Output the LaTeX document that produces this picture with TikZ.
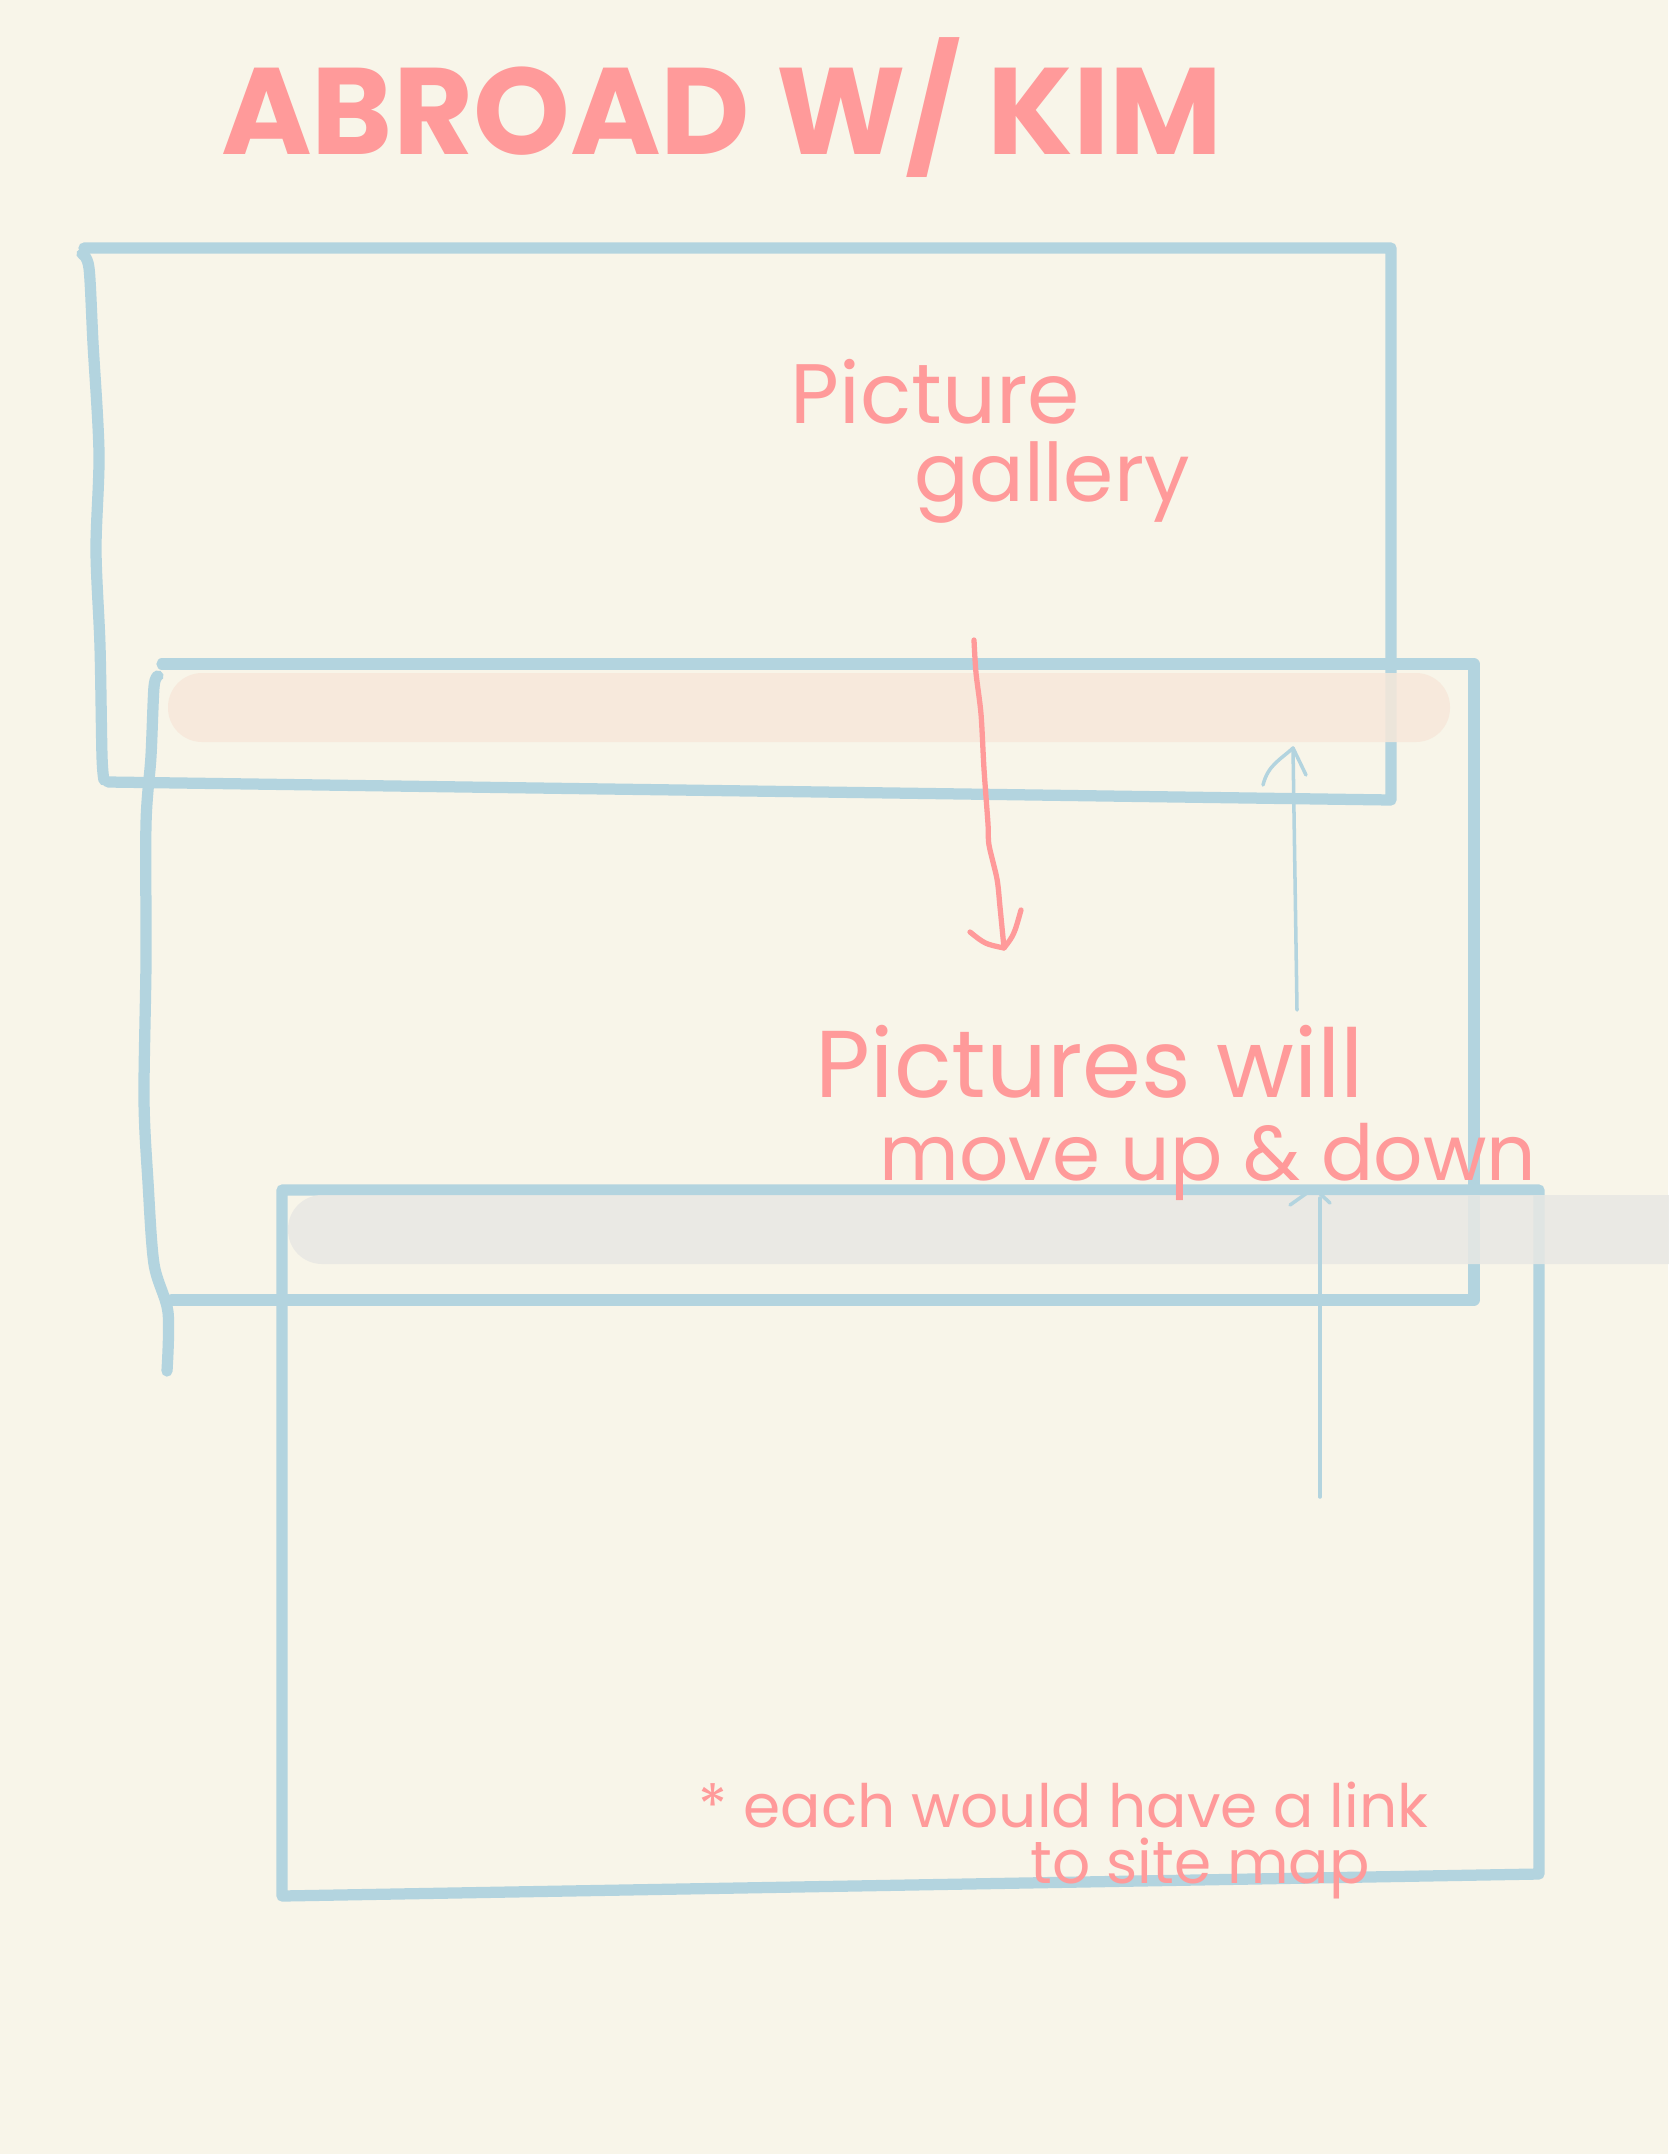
\documentclass[tikz,border=0pt]{standalone}
\usepackage{fontspec}
\setmainfont{Poppins}
\usepackage{xcolor}
\usetikzlibrary{arrows}
\definecolor{papel}{HTML}{F8F5E9}
\definecolor{rosa}{HTML}{FF9A9A}
\definecolor{azul}{HTML}{B3D4DF}
\definecolor{durazno}{HTML}{F7E8DA}
\definecolor{gris}{HTML}{E8E8E4}

\begin{document}
\begin{tikzpicture}[x=0.01cm,y=-0.01cm,
  caja/.style={draw=azul,line width=3.2pt,line join=round,line cap=round},
  trazo/.style={draw=rosa,line width=1.5pt,line join=round,line cap=round},
  guia/.style={draw=azul,line width=1pt,line join=round,line cap=round},
  banda/.style={fill opacity=0.85,rounded corners=0.34cm},
  nota/.style={rosa,inner sep=0pt,anchor=west}]
\fill[papel] (0,0) rectangle (1668,2154);
\useasboundingbox (0,0) rectangle (1668,2154);
% titulo
\node[nota,anchor=center,font=\fontsize{35}{38}\selectfont\bfseries] (titulo) at (722,108) {ABROAD W/ KIM};
% cajas
\draw[caja] (84,248) -- (1391,248) -- (1391,800) -- (108,782);
\draw[caja] plot[smooth] coordinates {(82,254) (89,268) (93,343) (99,453) (96,550) (100,646) (102,756) (104,780)};
\draw[caja] (162,664) -- (1474,664) -- (1474,1300) -- (172,1300);
\draw[caja] plot[smooth] coordinates {(158,676) (154,687) (151,756) (146,824) (146,962) (144,1099) (148,1182) (154,1264) (168,1312) (167,1371)};
\draw[caja] (282,1190) -- (1539,1190) -- (1539,1874) -- (282,1896) -- cycle;
% bandas
\fill[durazno,banda] (168,673) rectangle (1450,742);
\fill[gris,banda] (288,1195) rectangle (1720,1264);
% flecha hacia abajo
\coordinate (bajaIni) at (974,640);
\coordinate (bajaFin) at (1004,948);
\draw[trazo] plot[smooth] coordinates {(bajaIni) (976,673) (981,714) (984,769) (988,824) (989,845) (997,879) (1000,907) (bajaFin)};
\draw[trazo] (970,932) .. controls (985,944) .. (bajaFin) .. controls (1014,935) .. (1021,910);
% guias azules
\coordinate (subeIni) at (1297,1010);
\coordinate (subeFin) at (1293,748);
\draw[guia] (subeIni) -- (subeFin);
\draw[guia] (1263,785) .. controls (1268,765) and (1280,760) .. (subeFin) -- (1306,775);
\coordinate (otraIni) at (1320,1497);
\coordinate (otraFin) at (1314,1188);
\draw[guia] (otraIni) -- (1320,1198);
\draw[guia] (1290,1205) -- (otraFin) -- (1330,1203);
% notas
\node[nota,font=\fontsize{24}{26}\selectfont] (foto) at (790,392) {Picture};
\node[nota,font=\fontsize{23}{26}\selectfont] (galeria) at (914,482) {gallery};
\node[nota,font=\fontsize{27}{28}\selectfont] (mueven) at (815,1062) {Pictures will};
\node[nota,font=\fontsize{22}{28}\selectfont] (arriba) at (879,1162) {move up \& down};
\node[nota,font=\fontsize{17}{20}\selectfont] (enlace) at (698,1805) {* each would have a link};
\node[nota,font=\fontsize{17}{20}\selectfont] (mapa) at (1030,1868) {to site map};
\end{tikzpicture}
\end{document}
